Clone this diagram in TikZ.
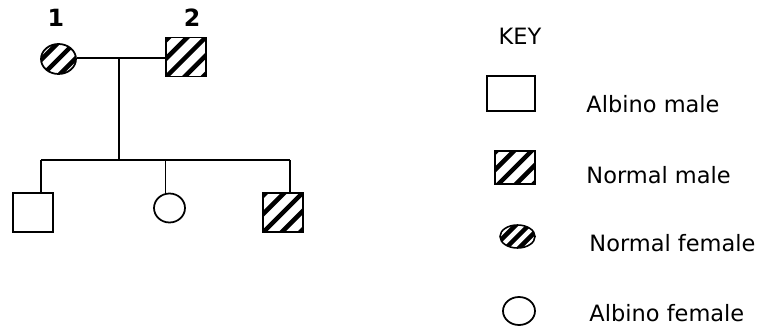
\documentclass[tikz,border=0pt]{standalone}
\usepackage{fontspec}
\setmainfont{DejaVu Sans}
\usetikzlibrary{shapes.geometric}

\begin{document}
\begin{tikzpicture}[
    x=0.02cm, y=-0.02cm,
    line width=0.7pt,
    every node/.style={font=\fontsize{12.8}{15}\selectfont},
    male/.style={draw, rectangle, line width=1pt, inner sep=0pt, minimum width=0.8cm, minimum height=0.78cm},
    female/.style={draw, ellipse, line width=1pt, inner sep=0pt, minimum width=0.7cm, minimum height=0.6cm},
    hatched/.style={path picture={
        \foreach \k in {-3,...,3}
          \draw[line width=2.6pt] ([shift={(\k*#1-20pt,-20pt)}]path picture bounding box.center)
                               -- ([shift={(\k*#1+20pt,20pt)}]path picture bounding box.center);
    }},
    hatched/.default=10.5pt,
]
  \useasboundingbox (0,0) rectangle (767,331);
  % parents
  \node[female, hatched=9.5pt] (f1) at (58.5,59) {};
  \node[male, hatched] (m2) at (186,57) {};
  \node[font=\fontsize{13.5}{15}\selectfont\bfseries] (l1) at (56,18) {1};
  \node[font=\fontsize{13.5}{15}\selectfont\bfseries] (l2) at (192,18) {2};
  % children
  \node[male] (c1) at (33,212.5) {};
  \node[female, minimum width=0.62cm, minimum height=0.58cm] (c2) at (169.5,208) {};
  \node[male, hatched] (c3) at (283,212.5) {};
  % lines
  \coordinate (mate) at (119,58);
  \coordinate (sib) at (119,160);
  \coordinate (s1) at (41,160);
  \coordinate (s2) at (165.5,160);
  \coordinate (s3) at (290,160);
  \draw (f1.east |- mate) -- (m2.west |- mate);
  \draw (mate) -- (sib);
  \draw (s1) -- (s3);
  \draw (s1) -- (s1 |- c1.north);
  \draw (s2) -- (s2 |- c2.north);
  \draw (s3) -- (s3 |- c3.north);
  % key
  \node (key) at (520,36) {KEY};
  \node[male, minimum width=0.96cm, minimum height=0.7cm] (k1) at (511,93.5) {};
  \node[male, hatched=10pt, minimum width=0.8cm, minimum height=0.66cm] (k2) at (515,167.5) {};
  \node[female, hatched=7.5pt, line width=0.9pt, minimum width=0.7cm, minimum height=0.46cm] (k3) at (517.5,236.5) {};
  \node[female, minimum width=0.64cm, minimum height=0.56cm] (k4) at (519,311) {};
  \node[anchor=west] (t1) at (580,104) {Albino male};
  \node[anchor=west] (t2) at (580,175) {Normal male};
  \node[anchor=west] (t3) at (583,243) {Normal female};
  \node[anchor=west] (t4) at (583,313) {Albino female};
\end{tikzpicture}
\end{document}
